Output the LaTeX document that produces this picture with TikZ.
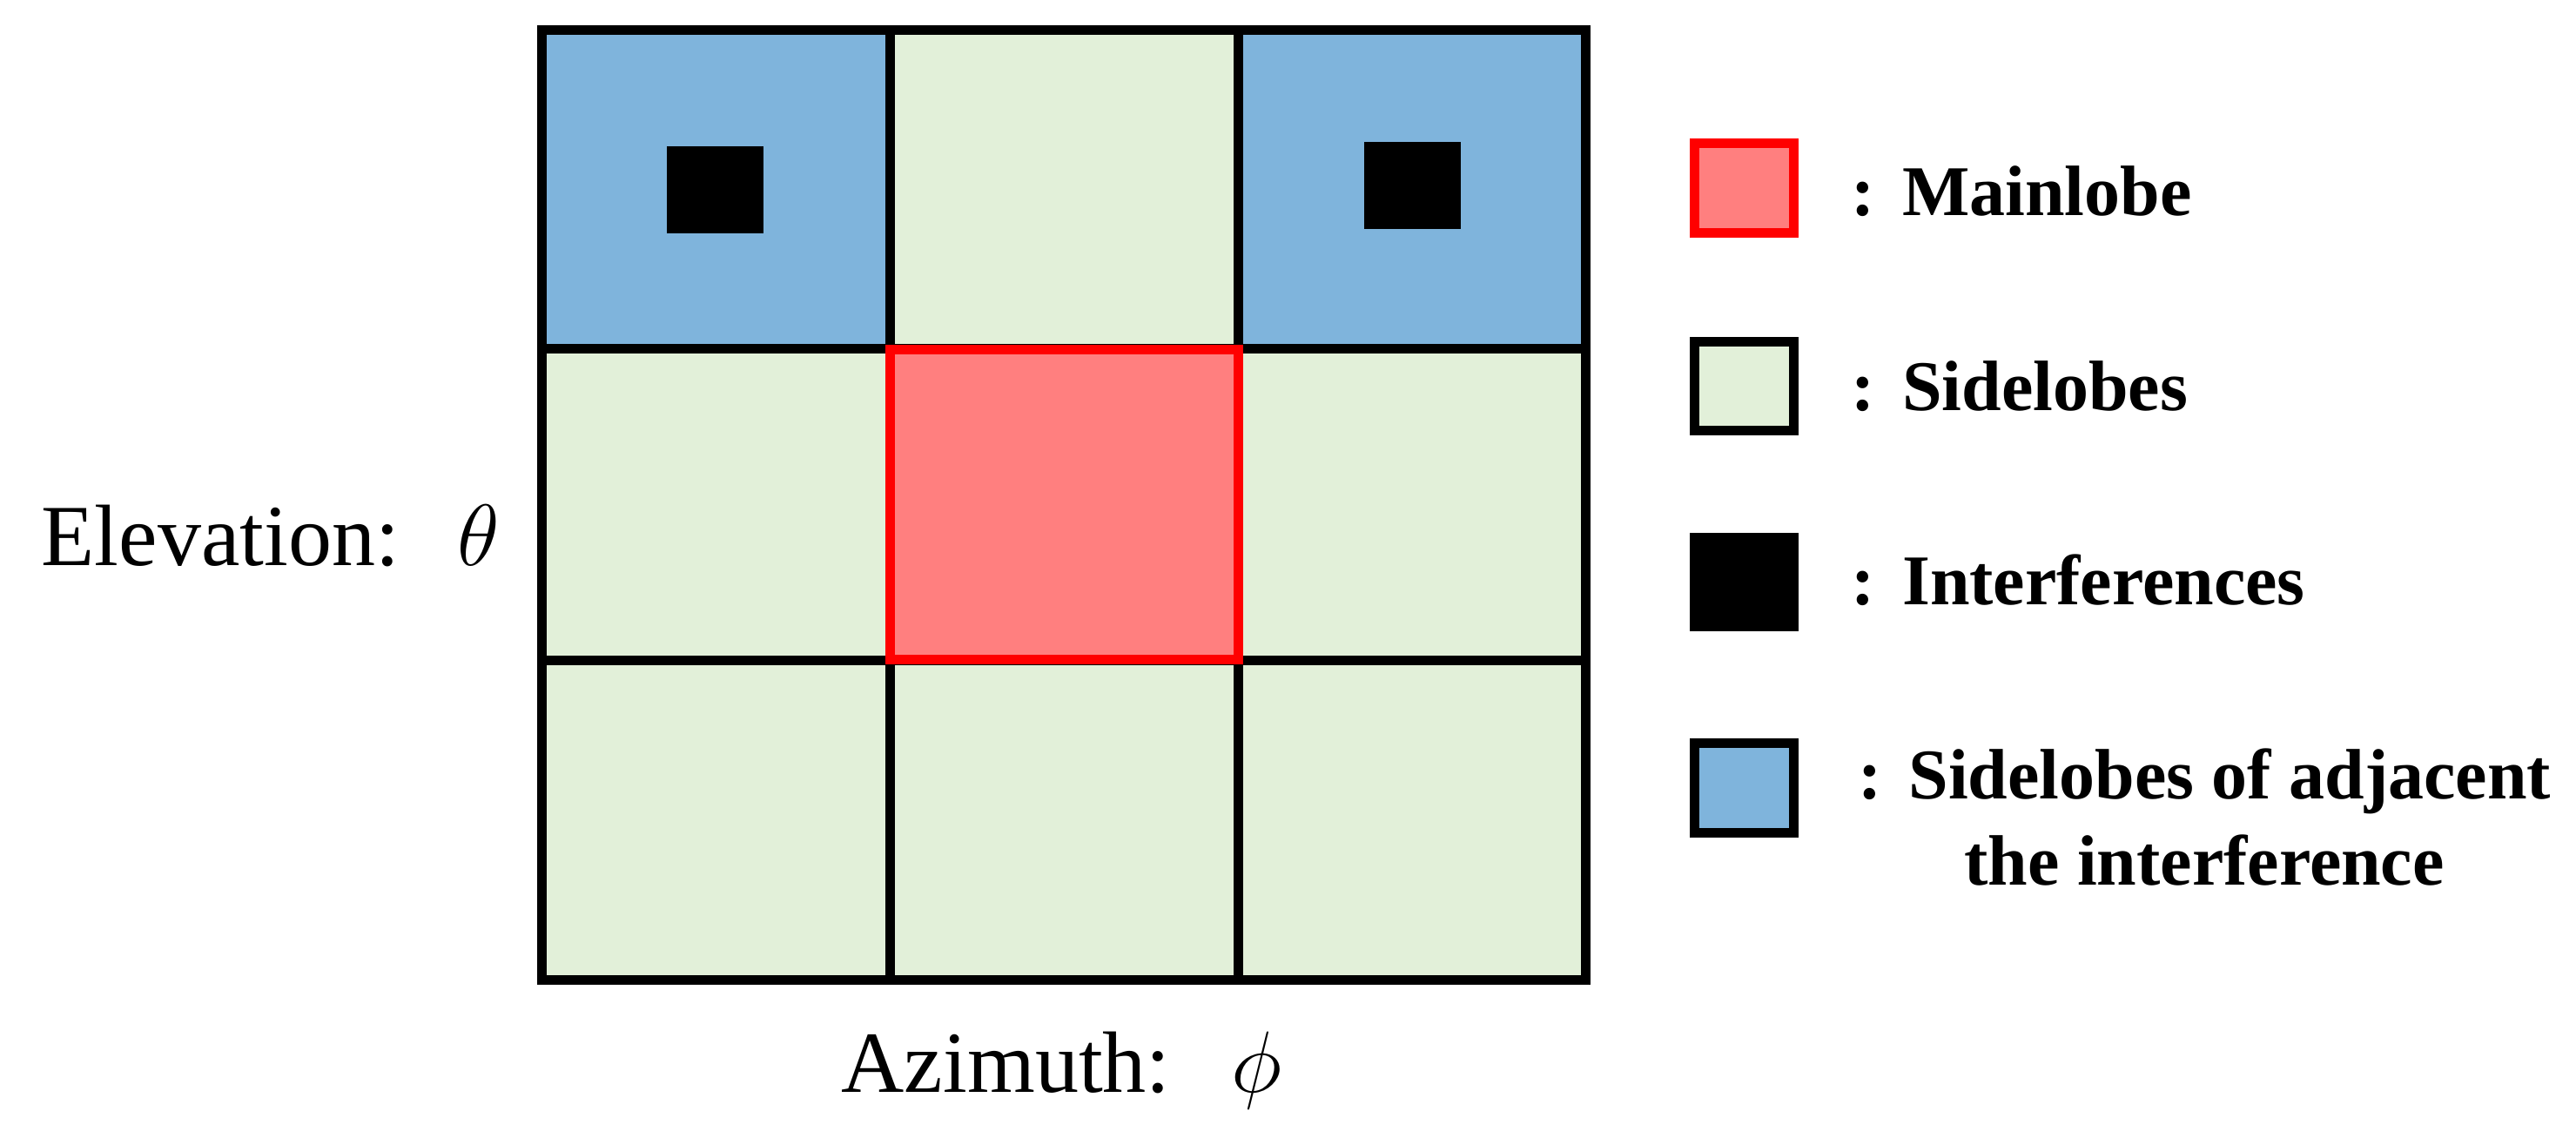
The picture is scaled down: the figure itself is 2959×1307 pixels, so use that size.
\documentclass[tikz,border=0pt]{standalone}
\usepackage{fix-cm}
\usepackage{fontspec}
\setmainfont{Liberation Serif}
\definecolor{lobeblue}{RGB}{127,180,220}
\definecolor{lobegreen}{RGB}{226,240,217}
\definecolor{mainfill}{RGB}{255,127,127}
\definecolor{mainred}{RGB}{255,0,0}
\tikzset{
  gridline/.style={line width=0.11cm, black},
  legbox/.style={draw, line width=0.11cm, minimum width=1.13cm, minimum height=1.02cm, inner sep=0},
  legtext/.style={anchor=base west, inner sep=0, font=\fontsize{23.3}{28.2}\selectfont\bfseries},
  axtext/.style={anchor=base west, inner sep=0, font=\fontsize{28.45}{34}\selectfont},
  interf/.style={fill=black, inner sep=0}
}
\begin{document}
\begin{tikzpicture}[x=0.01cm,y=-0.01cm]
\useasboundingbox (0,0) rectangle (2959,1307);
% cell fills
\fill[lobeblue] (622,35) rectangle (1022,401);
\fill[lobegreen] (1022,35) rectangle (1422,401);
\fill[lobeblue] (1422,35) rectangle (1821,401);
\fill[lobegreen] (622,401) rectangle (1821,1126);
% grid lines
\draw[gridline] (622,35) rectangle (1821,1126);
\draw[gridline] (1022,35) -- (1022,1126);
\draw[gridline] (1422,35) -- (1422,1126);
\draw[gridline] (622,401) -- (1821,401);
\draw[gridline] (622,759) -- (1821,759);
% mainlobe cell
\draw[mainred, fill=mainfill, line width=0.11cm] (1022,402) rectangle (1422,758);
% interferences
\fill[black] (766,168) rectangle (877,268);
\fill[black] (1567,163) rectangle (1678,263);
% axis labels
\node[axtext] (elev) at (47,650) {Elevation:\hspace{0.67em}$\theta$};
\node[axtext] (azim) at (966,1255) {Azimuth:\hspace{0.7em}$\phi$};
% legend
\node[legbox, draw=mainred, fill=mainfill] (b1) at (2003.5,216) {};
\node[legbox, draw=black, fill=lobegreen] (b2) at (2003.5,443.5) {};
\node[legbox, draw=black, fill=black] (b3) at (2003.5,668.5) {};
\node[legbox, draw=black, fill=lobeblue] (b4) at (2003.5,905) {};
\node[legtext] (t1) at (2126,248) {:\hspace{0.38em}Mainlobe};
\node[legtext] (t2) at (2126,472) {:\hspace{0.38em}Sidelobes};
\node[legtext] (t3) at (2126,695) {:\hspace{0.38em}Interferences};
\node[legtext, anchor=base, align=center] (t4) at (2532,1017) {:\hspace{0.38em}Sidelobes of adjacent\\the interference};
\end{tikzpicture}
\end{document}
